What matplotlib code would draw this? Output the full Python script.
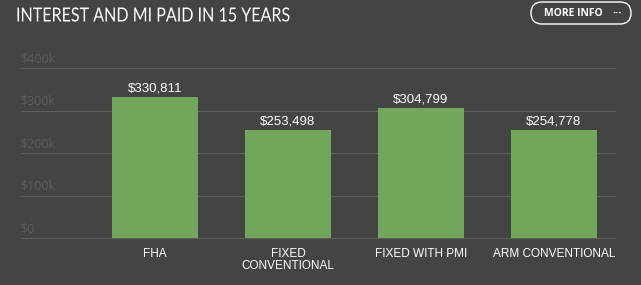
import matplotlib.pyplot as plt
from matplotlib.patches import FancyBboxPatch, PathPatch
from matplotlib.textpath import TextPath
from matplotlib.font_manager import FontProperties
from matplotlib.transforms import Affine2D

categories = ["FHA", "FIXED\nCONVENTIONAL", "FIXED WITH PMI", "ARM CONVENTIONAL"]
values = [330811, 253498, 304799, 254778]
yticks = [0, 100000, 200000, 300000, 400000]
ytick_labels = ["$0", "$100k", "$200k", "$300k", "$400k"]

bg = "#444444"
green = "#72a65b"

fig = plt.figure(figsize=(6.41, 2.85), dpi=100, facecolor=bg)
ax = fig.add_axes([22 / 641, 47 / 285, 593 / 641, 170 / 285], facecolor=bg)

x = range(len(values))
ax.bar(x, values, width=0.647, color=green, zorder=2)
for xi, v in zip(x, values):
    ax.text(xi, v + 6000, f"${v:,}", ha="center", va="bottom",
            color="white", fontsize=9.5, family="Liberation Sans")

ax.set_xlim(-1.0, 3.46)
ax.set_ylim(0, 400000)
for t, lab in zip(yticks, ytick_labels):
    ax.axhline(t, color="#5e5e5e", lw=0.8, zorder=1, clip_on=False)
    ax.text(-1.01, t + 7000, lab, ha="left", va="bottom", color="#5c5c5c",
            fontsize=9, family="Open Sans")
ax.set_yticks([])
ax.set_xticks(list(x))
ax.set_xticklabels(categories, color="white", fontsize=8.5,
                   family="Liberation Sans", linespacing=1.0)
ax.tick_params(axis="x", length=0, pad=7)
for s in ax.spines.values():
    s.set_visible(False)

# overlay in pixel coordinates for title and button
ov = fig.add_axes([0, 0, 1, 1], facecolor="none")
ov.set_xlim(0, 641)
ov.set_ylim(285, 0)
ov.axis("off")

# condensed title: squeeze a text path horizontally
title = "INTEREST AND MI PAID IN 15 YEARS"
tp = TextPath((0, 0), title, size=19.5, prop=FontProperties(family="Lato"))
w = tp.get_extents().width
sx = 272 / w
tr = Affine2D().scale(sx, -1).translate(16, 21.5) + ov.transData
ov.add_patch(PathPatch(tp, transform=tr, facecolor="white", edgecolor="none"))

btn = FancyBboxPatch((531, 2), 100, 22, boxstyle="round,pad=0,rounding_size=11",
                     facecolor="none", edgecolor="white", lw=1.0)
ov.add_patch(btn)
ov.text(573, 13.5, "MORE INFO", color="white",
        fontsize=7.5, fontweight="bold", family="Open Sans",
        ha="center", va="center")
ov.text(617, 13.5, "\u00b7\u00b7\u00b7", color="white",
        fontsize=8, fontweight="bold", family="Open Sans",
        ha="center", va="center")

fig.savefig("out.png", facecolor=bg)
